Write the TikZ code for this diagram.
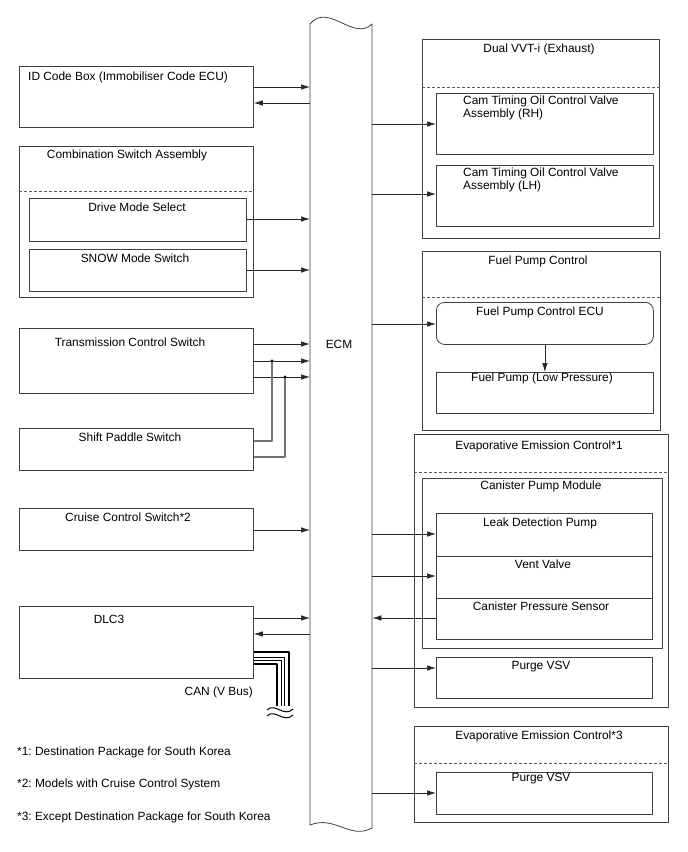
\documentclass[tikz,border=0pt]{standalone}
\usepackage{fontspec}
\setmainfont{Liberation Sans}
\usetikzlibrary{arrows.meta}
\frenchspacing

\begin{document}
\begin{tikzpicture}[
  x=1pt,
  y=-1pt,
  line join=round,
  >={Latex[length=9pt,width=5.5pt]},
  box/.style={draw=black!75, line width=0.8pt, anchor=north west, inner sep=0pt},
  sep/.style={draw=black!65, line width=0.8pt, dash pattern=on 3pt off 2pt},
  txt/.style={font=\fontsize{11.9}{13}\selectfont, inner sep=0pt, anchor=base},
  arr/.style={->, draw=black!85, line width=0.7pt},
  wire/.style={draw=black!55, line width=1.4pt},
  can/.style={draw=black, line width=2.8pt, line cap=butt},
  canthin/.style={draw=black, line width=1pt, line cap=butt}
]
\useasboundingbox (0,0) rectangle (688,852);

% ---------- ECM bar ----------
\node[draw=none, anchor=north west, inner sep=0pt,
      minimum width=62pt, minimum height=804pt] (ecm) at (310,24) {};
\draw[black!75, line width=0.8pt]
  (310,24) .. controls (328,2) and (354,42) .. (372,24)
  -- (372,828) .. controls (350,840) and (335,815) .. (310,825) -- cycle;
\node[txt] (ecm-t) at (339,348) {ECM};

% ---------- boxes ----------
\foreach \n/\xa/\ya/\xb/\yb in {
  idbox/19/66/253/127,
  combo/19/146/253/297,
  drive/29/198/246/241,
  snow/29/249/246/291,
  trans/19/328/253/393,
  paddle/19/428/253/470,
  cruise/19/508/253/550,
  dlc/19/606/253/678,
  vvt/422/39/659/238,
  camrh/436/93/653/154,
  camlh/436/165/653/226,
  fpc/422/251/660/430,
  fp/436/372/653/413,
  evap/414/434/668/707,
  cpm/422/478/662/648,
  leak/436/513/652/556,
  vent/436/556/652/598,
  cps/436/598/652/639,
  purge/436/657/652/698,
  evapb/414/726/668/822,
  purgeb/436/772/652/814
}{
  \node[box, minimum width={(\xb-\xa)*1pt}, minimum height={(\yb-\ya)*1pt}]
    (\n) at (\xa,\ya) {};
}
\node[box, rounded corners=8pt, minimum width=217pt, minimum height=42pt]
  (fpecu) at (436,302) {};

% dashed separators
\foreach \n/\y in {combo/191, vvt/87, fpc/297, evap/472, evapb/763}{
  \draw[sep] (\n.west |- 0,\y) -- (\n.east |- 0,\y);
}

% ---------- texts ----------
\foreach \n/\x/\y/\t in {
  combo/127/158/{Combination Switch Assembly},
  drive/137/211/{Drive Mode Select},
  snow/135/262/{SNOW Mode Switch},
  trans/130/346/{Transmission Control Switch},
  paddle/130/441/{Shift Paddle Switch},
  cruise/128/521/{Cruise Control Switch*2},
  dlc/109/623/{DLC3},
  vvt/539/52/{Dual VVT-i (Exhaust)},
  fpc/538/264/{Fuel Pump Control},
  fpecu/540/315/{Fuel Pump Control ECU},
  fp/542/381/{Fuel Pump (Low Pressure)},
  evap/539/449/{Evaporative Emission Control*1},
  cpm/541/489/{Canister Pump Module},
  leak/540/526/{Leak Detection Pump},
  vent/543/568/{Vent Valve},
  cps/541/610/{Canister Pressure Sensor},
  purge/541/669/{Purge VSV},
  evapb/539/739/{Evaporative Emission Control*3},
  purgeb/541/781/{Purge VSV}
}{
  \node[txt] (\n-t) at (\x,\y) {\t};
}
\node[txt, anchor=base west] (idbox-t) at (28,80) {ID Code Box (Immobiliser Code ECU)};
\node[txt, anchor=north west, align=left] (camrh-t) at (463,96)
  {Cam Timing Oil Control Valve\\Assembly (RH)};
\node[txt, anchor=north west, align=left] (camlh-t) at (463,167.5)
  {Cam Timing Oil Control Valve\\Assembly (LH)};

% footnotes
\node[txt, anchor=base east] (can-t) at (253,695) {CAN (V Bus)};
\node[txt, anchor=base west] (note1) at (17,755) {*1: Destination Package for South Korea};
\node[txt, anchor=base west] (note2) at (17,787) {*2: Models with Cruise Control System};
\node[txt, anchor=base west] (note3) at (17,820) {*3: Except Destination Package for South Korea};

% ---------- signals into ECM ----------
\foreach \n/\y in {idbox/87, drive/219, snow/270, trans/344, trans/361,
                   trans/377, cruise/530, dlc/618}{
  \draw[arr] (\n.east |- 0,\y) -- (ecm.west |- 0,\y);
}
\foreach \n/\y in {idbox/103, dlc/634}{
  \draw[arr] (ecm.west |- 0,\y) -- (\n.east |- 0,\y);
}

% ---------- signals out of ECM ----------
\foreach \n/\y in {camrh/124, camlh/194, fpecu/324, leak/534, vent/576,
                   purge/668, purgeb/793}{
  \draw[arr] (ecm.east |- 0,\y) -- (\n.west |- 0,\y);
}
\draw[arr] (cps.west |- 0,618) -- (ecm.east |- 0,618);
\draw[arr] (fpecu.south) -- (fp.north);

% ---------- shift paddle wiring ----------
\coordinate (j1) at (272,361);
\coordinate (j2) at (285,377);
\draw[wire] (paddle.east |- 0,441) -| (j1);
\draw[wire] (paddle.east |- 0,457) -| (j2);
\fill (j1) circle (1.7pt);
\fill (j2) circle (1.7pt);

% ---------- CAN bus ----------
\draw[can]     (dlc.east |- 0,652) -| (289,706);
\draw[canthin] (dlc.east |- 0,657) -| (284,706);
\draw[canthin] (dlc.east |- 0,660) -| (281,706);
\draw[can]     (dlc.east |- 0,664) -| (277,706);
\draw[line width=1pt] (267,710) .. controls (275,702) and (284,718) .. (293,709);
\draw[line width=1pt] (267,716) .. controls (275,708) and (284,724) .. (293,715);

\end{tikzpicture}
\end{document}
